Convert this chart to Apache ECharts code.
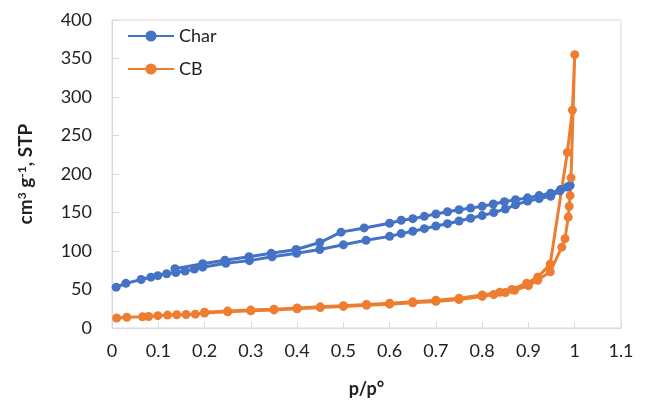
<!DOCTYPE html>
<html>
<head>
<meta charset="utf-8">
<script src="https://cdn.jsdelivr.net/npm/echarts@6/dist/echarts.min.js"></script>
<style>html,body{margin:0;padding:0;background:#fff}#c{width:646px;height:403px}</style>
</head>
<body>
<div id="c"></div>
<script>
// Char: adsorption (lower branch) then desorption (upper branch)
var charP = [0.009,0.03,0.063,0.084,0.099,0.118,0.138,0.158,0.178,0.196,0.246,0.297,0.346,0.399,0.449,0.5,0.549,0.6,0.625,0.65,0.675,0.7,0.725,0.75,0.775,0.8,0.825,0.85,0.872,0.898,0.923,0.948,0.968,0.984,0.99,
             0.97,0.948,0.923,0.898,0.872,0.848,0.824,0.8,0.775,0.75,0.725,0.7,0.675,0.65,0.625,0.6,0.545,0.495,0.449,0.398,0.344,0.296,0.244,0.196,0.136];
var charV = [53,58,63,66,68,70.5,72,74,76.5,79,84,87.5,92.5,97,102,108,114,119,122.6,125.6,129,132.5,135.5,139,142.5,146,150,154.4,160,164.7,168,171,178,183,185,
             180,175,172,169,166.5,164,161,158,155.7,153.5,151,148,145,142,140,136,130,124.5,111,102,97,92.5,88,83.5,77];
// CB: adsorption then desorption
var cbP = [0.01,0.032,0.066,0.079,0.099,0.12,0.14,0.16,0.18,0.2,0.25,0.3,0.35,0.4,0.45,0.5,0.55,0.6,0.65,0.7,0.75,0.8,0.825,0.85,0.87,0.9,0.92,0.947,0.972,0.979,0.986,0.988,0.99,0.992,1.0,
           0.995,0.984,0.947,0.92,0.896,0.864,0.838,0.8,0.75,0.7,0.65,0.6,0.55,0.5,0.45,0.4,0.35,0.3,0.25,0.2];
var cbV = [13,14,14.5,15,16,16.8,17.2,17.5,18,19.5,21,22.3,23.5,25,26.5,28,29.5,31,32.8,34.5,37,41,43.5,46,49,55,62,73,105,116,144,158,172,195,355,
           283,228,83,66,58,50,46.5,43,38.5,36,34,32.2,30.5,29,27.5,26,24.5,23.3,22,20.5];
var xTicks = {min:0, max:1.1, step:0.1};
var yTicks = {min:0, max:400, step:50};

function pairs(p, v){ return p.map(function(x,i){ return [x, v[i]]; }); }

var font = 'Lato';
var chart = echarts.init(document.getElementById('c'));
chart.setOption({
  animation:false,
  grid:{left:112, right:25, top:20, bottom:73, show:true, borderColor:'#d9d9d9', borderWidth:1},
  legend:{
    orient:'vertical', left:122, top:22, itemWidth:46, itemHeight:14, itemGap:15,
    textStyle:{fontFamily:font, fontSize:18, color:'#222'},
    data:['Char','CB']
  },
  xAxis:{
    type:'value', min:xTicks.min, max:xTicks.max, interval:xTicks.step,
    name:'p/p°', nameLocation:'middle', nameGap:52,
    nameTextStyle:{fontFamily:font, fontSize:18, fontWeight:'bold', color:'#222'},
    axisLine:{show:true, lineStyle:{color:'#d9d9d9', width:1}},
    axisTick:{show:true, inside:true, length:6, lineStyle:{color:'#d9d9d9'}},
    splitLine:{show:false},
    axisLabel:{fontFamily:font, fontSize:18, color:'#222', margin:14,
      formatter:function(v){ return String(+v.toFixed(1)); }}
  },
  yAxis:{
    type:'value', min:yTicks.min, max:yTicks.max, interval:yTicks.step,
    name:'cm{sup|3} g{sup|-1}, STP', nameLocation:'middle', nameGap:76,
    nameTextStyle:{fontFamily:font, fontSize:19, fontWeight:'bold', color:'#222',
      rich:{sup:{fontFamily:font, fontSize:12, fontWeight:'bold', color:'#222', verticalAlign:'top', padding:[0,0,8,0]}}},
    axisLine:{show:true, lineStyle:{color:'#d9d9d9', width:1}},
    axisTick:{show:true, inside:true, length:7, lineStyle:{color:'#d9d9d9'}},
    splitLine:{show:false},
    axisLabel:{fontFamily:font, fontSize:18, color:'#222', margin:20}
  },
  series:[
    {name:'Char', type:'line', data:pairs(charP, charV), symbol:'circle', symbolSize:9,
     color:'#4472C4', lineStyle:{width:3, color:'#4472C4'}, itemStyle:{color:'#4472C4'}},
    {name:'CB', type:'line', data:pairs(cbP, cbV), symbol:'circle', symbolSize:9,
     color:'#ED7D31', lineStyle:{width:3, color:'#ED7D31'}, itemStyle:{color:'#ED7D31'}}
  ]
});
</script>
</body>
</html>
